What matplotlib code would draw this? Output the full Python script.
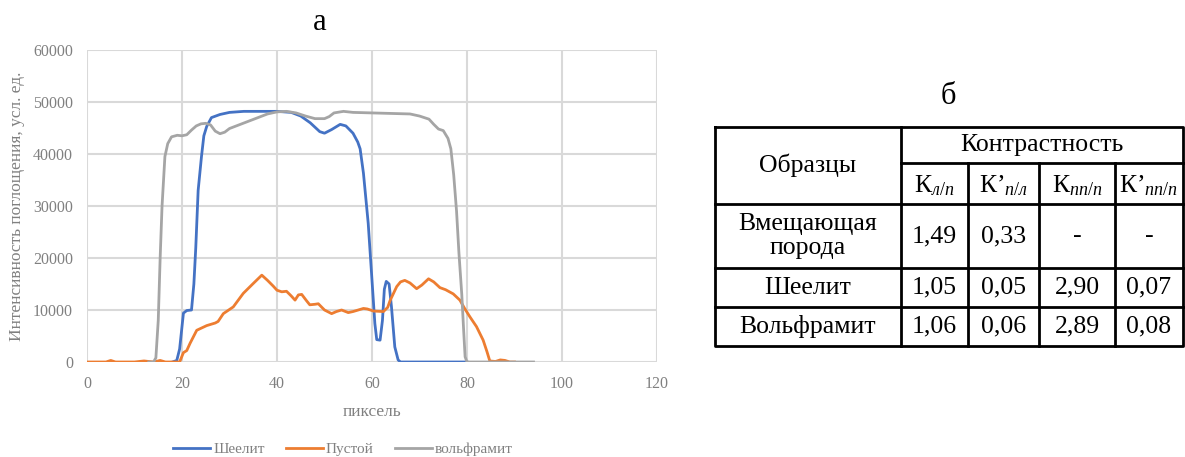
import matplotlib

matplotlib.use("Agg")
import matplotlib.pyplot as plt

plt.rcParams["font.family"] = ["Liberation Serif", "DejaVu Serif"]
plt.rcParams["mathtext.fontset"] = "custom"
plt.rcParams["mathtext.rm"] = "Liberation Serif"
plt.rcParams["mathtext.it"] = "Liberation Serif:italic"

# --- chart data ---
x_sheelite = [18, 18.9, 19.5, 20.3, 21, 22, 22.5, 22.9, 23.4, 24.1, 24.6, 25.2, 26.2, 28, 30,
              33, 36, 40, 43, 45, 47, 49, 50, 51.5, 53.3, 54.5, 56, 57, 57.5, 58.2, 59.2,
              59.9, 60.6, 61, 61.7, 62.2, 62.6, 63, 63.6, 64.1, 64.8, 65.5, 66, 80]
y_sheelite = [0, 300, 2500, 9400, 9900, 10000, 15000, 22000, 33000, 39500, 43500, 45300, 47000,
              47600, 48000, 48200, 48200, 48200, 48000, 47300, 46000, 44300, 44000, 44700,
              45700, 45400, 44000, 42300, 41000, 36300, 26700, 17100, 7400, 4300, 4200, 8000,
              14000, 15500, 15000, 10600, 2900, 400, 0, 0]

x_empty = [0, 4, 5, 6, 10, 12, 14, 15.4, 16.5, 19.5, 20.3, 21, 21.7, 23.1, 25.2, 27, 27.6, 28.7,
           30.8, 32.9, 35, 36.8, 38, 39.2, 40, 41, 42, 43, 43.8, 44.5, 45.2, 46.2, 46.9, 48,
           48.7, 50, 51.5, 52.5, 53.6, 55, 56, 58.2, 59, 60.3, 62.4, 63.3, 63.8, 65.2, 66,
           66.9, 68, 69.4, 70.5, 71.9, 73, 74.3, 75.5, 77.1, 78.5, 79.5, 80.6, 82, 83.4,
           84.2, 84.8, 86, 87, 88, 89, 90]
y_empty = [0, 0, 300, 0, 0, 200, 0, 300, 0, 0, 1800, 2200, 3600, 6100, 7000, 7500, 7800, 9300,
           10600, 13200, 15100, 16700, 15700, 14600, 13800, 13500, 13600, 12700, 11900, 12900,
           13000, 11800, 11000, 11100, 11200, 10000, 9300, 9700, 10000, 9500, 9700, 10300,
           10200, 9800, 9700, 10500, 11800, 14500, 15400, 15700, 15200, 14100, 14800, 16000,
           15400, 14300, 13900, 13100, 11900, 10300, 8700, 6800, 4200, 2000, 200, 100, 400,
           300, 0, 0]

x_wolfram = [13, 14, 14.5, 15, 15.4, 15.8, 16.4, 17, 17.8, 19, 20, 21, 22, 23, 24, 25, 26, 27,
             28, 29, 30, 32, 34, 36, 38, 40, 42, 44, 46, 48, 50, 51, 52, 54, 56, 60, 64, 68,
             70, 72, 73, 74, 75, 76, 76.6, 77.2, 77.8, 78.3, 78.9, 79.3, 79.6, 80, 94]
y_wolfram = [0, 0, 800, 8000, 20000, 30000, 39500, 42000, 43300, 43600, 43500, 43700, 44600,
             45400, 45800, 45900, 45600, 44400, 43900, 44200, 44900, 45600, 46300, 47000,
             47700, 48100, 48200, 47900, 47300, 46800, 46800, 47200, 47900, 48200, 48000,
             47900, 47800, 47700, 47300, 46700, 45700, 44800, 44500, 43000, 41000, 36000,
             29000, 21000, 13000, 6000, 1000, 0, 0]

series_labels = ["Шеелит", "Пустой", "вольфрамит"]
x_ticks = [0, 20, 40, 60, 80, 100, 120]
y_ticks = [0, 10000, 20000, 30000, 40000, 50000, 60000]

# --- table data ---
table_header = ["Образцы", "Контрастность"]
k_headers = [("К", "л/п"), ("К’", "п/л"), ("К", "пп/п"), ("К’", "пп/п")]
row_names = ["Вмещающая\nпорода", "Шеелит", "Вольфрамит"]
row_values = [
    ["1,49", "0,33", "-", "-"],
    ["1,05", "0,05", "2,90", "0,07"],
    ["1,06", "0,06", "2,89", "0,08"],
]

W, H, DPI = 1185, 457, 100
fig = plt.figure(figsize=(W / DPI, H / DPI), dpi=DPI)

# chart "а"
ax = fig.add_axes([87 / W, 1 - 362 / H, (657 - 87) / W, (362 - 50) / H])
tick_grey = "#808080"
ax.plot(x_sheelite, y_sheelite, color="#4472C4", lw=2.0, label=series_labels[0])
ax.plot(x_empty, y_empty, color="#ED7D31", lw=2.0, label=series_labels[1])
ax.plot(x_wolfram, y_wolfram, color="#A5A5A5", lw=2.0, label=series_labels[2])
ax.set_xlim(0, 120)
ax.set_ylim(0, 60000)
ax.set_xticks(x_ticks)
ax.set_yticks(y_ticks)
ax.grid(True, color="#d9d9d9", lw=1.5)
ax.set_axisbelow(True)
for s in ax.spines.values():
    s.set_visible(False)
ax.tick_params(length=0, colors=tick_grey, labelsize=11.5)
ax.tick_params(axis="y", pad=10)
ax.tick_params(axis="x", pad=10)
ax.set_xlabel("пиксель", color=tick_grey, fontsize=12.5, labelpad=9)
ax.set_ylabel("Интенсивность поглощения, усл. ед.", color=tick_grey, fontsize=12.5,
              labelpad=6)
fig.legend(loc="center", bbox_to_anchor=(343 / W, 1 - 449 / H), ncol=3, frameon=False,
           fontsize=11, labelcolor=tick_grey, handlelength=2.4, handletextpad=0.2,
           columnspacing=1.4)
fig.text(320 / W, 1 - 22 / H, "а", ha="center", va="center", fontsize=22)

# table "б" drawn in pixel coordinates
tx = fig.add_axes([0, 0, 1, 1])
tx.set_xlim(0, W)
tx.set_ylim(H, 0)
tx.axis("off")
tx.patch.set_alpha(0)

left, right, top, bottom = 715, 1183, 127, 346
col_x = [left, 901, 968, 1039, 1115, right]
row_y = [top, 163, 204, 268, 307, bottom]
lw = 2.0
tx.plot([left, right, right, left, left], [top, top, bottom, bottom, top], color="black", lw=lw)
tx.plot([col_x[1], right], [row_y[1], row_y[1]], color="black", lw=lw)
for y in row_y[2:5]:
    tx.plot([left, right], [y, y], color="black", lw=lw)
tx.plot([col_x[1], col_x[1]], [top, bottom], color="black", lw=lw)
for x in col_x[2:5]:
    tx.plot([x, x], [row_y[1], bottom], color="black", lw=lw)

fs = 18.5
tx.text((col_x[0] + col_x[1]) / 2, (row_y[0] + row_y[2]) / 2, table_header[0],
        ha="center", va="center", fontsize=fs)
tx.text((col_x[1] + right) / 2, (row_y[0] + row_y[1]) / 2, table_header[1],
        ha="center", va="center", fontsize=fs)
for j, (k, sub) in enumerate(k_headers):
    cx = (col_x[j + 1] + col_x[j + 2]) / 2
    tx.text(cx, (row_y[1] + row_y[2]) / 2 + 2, k + r"$_{\mathit{" + sub + "}}$",
            ha="center", va="center", fontsize=fs)
for i, name in enumerate(row_names):
    cy = (row_y[i + 2] + row_y[i + 3]) / 2
    tx.text((col_x[0] + col_x[1]) / 2, cy, name, ha="center", va="center",
            fontsize=fs, linespacing=1.15)
    for j, v in enumerate(row_values[i]):
        cx = (col_x[j + 1] + col_x[j + 2]) / 2
        tx.text(cx, cy, v, ha="center", va="center", fontsize=fs)
fig.text(948 / W, 1 - 97 / H, "б", ha="center", va="center", fontsize=22)

fig.savefig("out.png", dpi=DPI)
